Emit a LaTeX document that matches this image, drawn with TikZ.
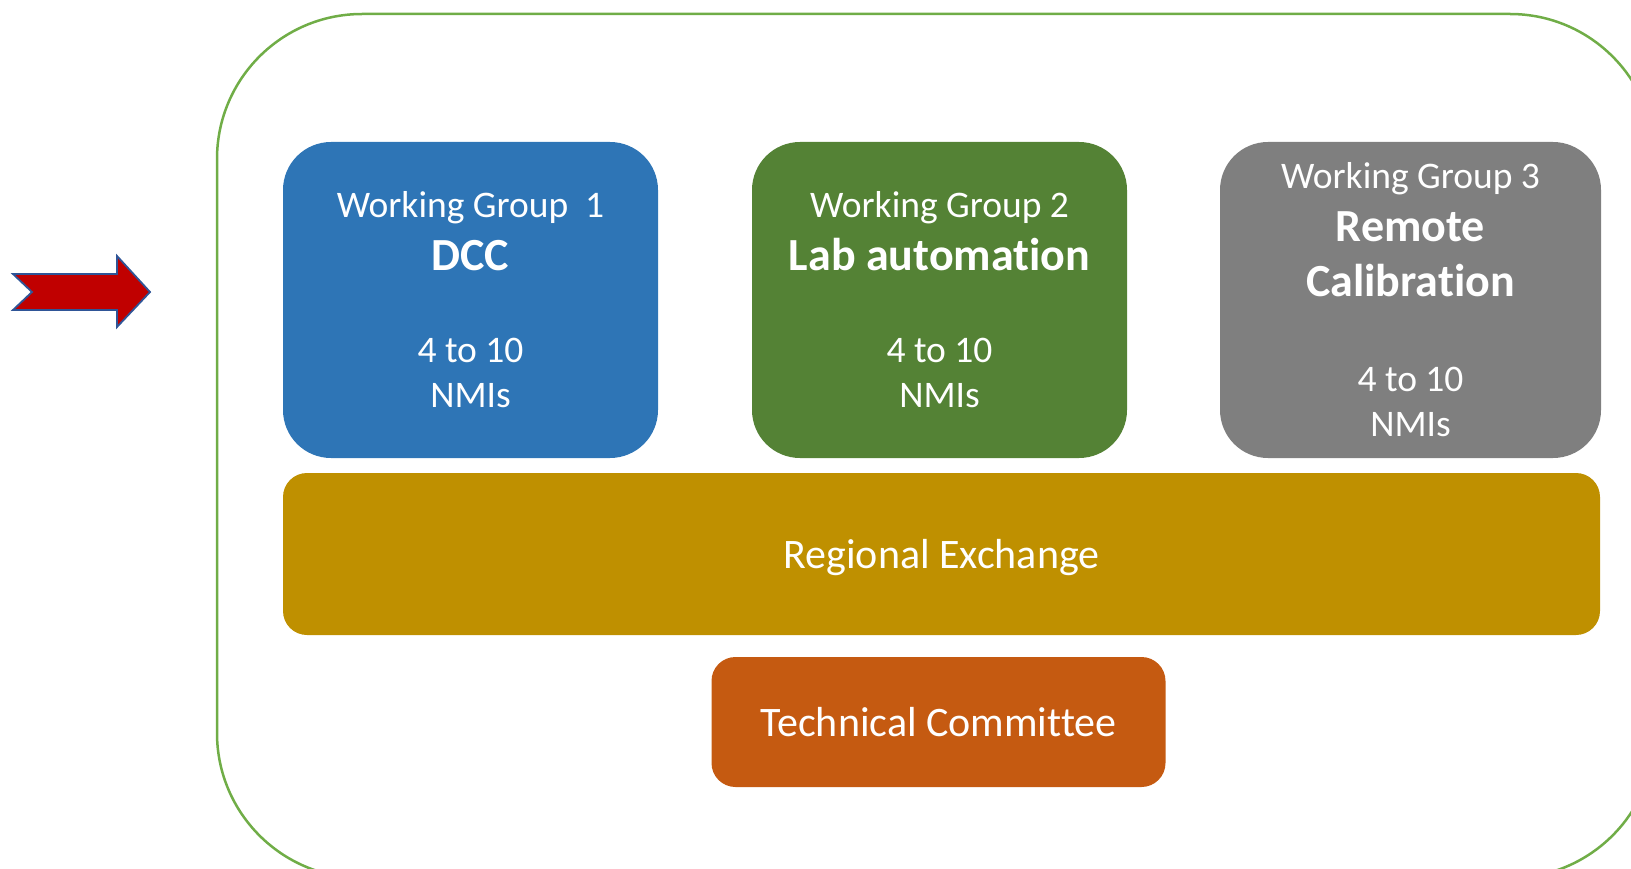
\documentclass[tikz,border=0pt]{standalone}
\usepackage{fontspec}
\setmainfont{Carlito}[Ligatures={NoCommon}]
\definecolor{wgone}{RGB}{46,117,182}
\definecolor{wgtwo}{RGB}{84,130,53}
\definecolor{wgthree}{RGB}{127,127,127}
\definecolor{rex}{RGB}{191,144,0}
\definecolor{tc}{RGB}{197,90,17}
\definecolor{frame}{RGB}{112,173,71}
\definecolor{arrowred}{RGB}{192,0,0}
\definecolor{arrowblue}{RGB}{47,85,151}
\usetikzlibrary{
  positioning      % relative placement of the boxes
}
\tikzset{
    node distance=15pt and 94pt,
    every node/.style = {
        rectangle,
        draw=none,
        text=white,
        align=center,
        outer sep=0pt,
        inner sep=0pt
    },
    wg/.style = {
        rounded corners=48pt,
        minimum width=375pt,
        minimum height=316pt,
        font=\fontsize{37.5}{45}\selectfont
    },
    bar/.style = {
        rounded corners=24pt,
        font=\fontsize{42}{50}\selectfont
    },
    wg1/.append style = {fill=wgone},
    wg2/.append style = {fill=wgtwo},
    wg3/.append style = {fill=wgthree, minimum width=381pt},
    rex/.append style = {fill=rex, minimum width=1317pt, minimum height=162pt, text depth=0pt},
    tc/.append style = {fill=tc, minimum width=454pt, minimum height=130pt},
    frame/.style = {draw=frame, line width=2.5pt, rounded corners=145pt},
    bigarrow/.style = {draw=arrowblue, fill=arrowred, line width=1.8pt, line join=miter}
}
\newcommand{\wgtitle}[1]{{\bfseries\fontsize{46}{50}\selectfont #1}}

\begin{document}
\begin{tikzpicture}[x=1pt, y=-1pt]

  \useasboundingbox (0,0) rectangle (1631,869);
  \clip (0,0) rectangle (1631,869);

  %% outer frame
  \draw [frame] (217,14) rectangle (1655,878);

  %% arrow on the left
  \draw [bigarrow] (13,274) -- (32,292) -- (13,310) -- (117,310) -- (117,327)
    -- (150,292) -- (117,256) -- (117,274) -- cycle;

  %% working groups
  \node [wg, wg1, anchor=north west] (WG1) at (283,142)
    {Working Group\ \ 1\\[8pt] \wgtitle{DCC}\\[47pt] 4 to 10\\ NMIs};
  \node [wg, wg2, right=of WG1] (WG2)
    {Working Group 2\\[8pt] \wgtitle{Lab automation}\\[47pt] 4 to 10\\ NMIs};
  \node [wg, wg3, right=93pt of WG2] (WG3)
    {Working Group 3\\[8pt] \wgtitle{Remote}\\[10pt] \wgtitle{Calibration}\\[50pt] 4 to 10\\ NMIs};

  %% regional exchange
  \node [bar, rex, below right=15pt and 0pt of WG1.south west] (RE) {Regional Exchange};

  %% technical committee
  \node [bar, tc, below=22pt of RE, xshift=-3pt] (TC) {Technical Committee};

\end{tikzpicture}
\end{document}
